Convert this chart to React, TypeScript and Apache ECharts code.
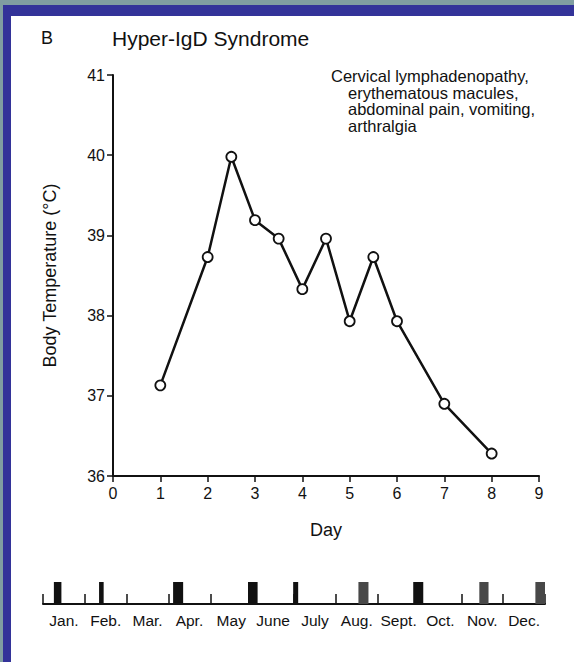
import React, { useEffect, useRef } from "react";
import * as echarts from "echarts";

// Fever curve (day, body temperature °C)
const days = [1, 2, 2.5, 3, 3.5, 4, 4.5, 5, 5.5, 6, 7, 8];
const temps = [37.13, 38.73, 39.98, 39.19, 38.96, 38.33, 38.96, 37.93, 38.73, 37.93, 36.9, 36.28];

// Year strip: fever episodes (start / end, in months from Jan 1)
const months = ["Jan.", "Feb.", "Mar.", "Apr.", "May", "June", "July", "Aug.", "Sept.", "Oct.", "Nov.", "Dec."];
const episodeStart = [0.26, 1.34, 3.11, 4.9, 5.98, 7.54, 8.85, 10.43, 11.77];
const episodeEnd = [0.44, 1.45, 3.35, 5.13, 6.1, 7.78, 9.09, 10.65, 12.0];
const episodeShaded = [false, false, false, false, false, true, false, true, true];

const symptoms = [
  "Cervical lymphadenopathy,",
  "erythematous macules,",
  "abdominal pain, vomiting,",
  "arthralgia",
];

const FONT = "'Liberation Sans', Arial, Helvetica, sans-serif";
const INK = "#111111";

export default function App() {
  const ref = useRef<HTMLDivElement>(null);

  useEffect(() => {
    const chart = echarts.init(ref.current!, null, { renderer: "svg" });
    const symptomX = [331, 348, 348, 348];
    const symptomY = [76, 92.5, 109, 125.5];
    chart.setOption({
      animation: false,
      backgroundColor: "transparent",
      textStyle: { fontFamily: FONT, color: INK },
      graphic: [
        {
          type: "text",
          x: 41,
          y: 38,
          style: { text: "B", font: `18px ${FONT}`, fill: INK, verticalAlign: "middle", align: "left" },
        },
        {
          type: "text",
          x: 112,
          y: 38,
          style: { text: "Hyper-IgD Syndrome", font: `21px ${FONT}`, fill: INK, verticalAlign: "middle", align: "left" },
        },
        ...symptoms.map((s, i) => ({
          type: "text",
          x: symptomX[i],
          y: symptomY[i],
          style: { text: s, font: `16.5px ${FONT}`, fill: INK, verticalAlign: "middle", align: "left" },
        })),
      ],
      grid: [
        { left: 113, top: 75, width: 426, height: 401 },
        { left: 43, top: 582, width: 502, height: 22 },
      ],
      xAxis: [
        {
          gridIndex: 0,
          type: "value",
          min: 0,
          max: 9,
          interval: 1,
          axisLine: { lineStyle: { color: INK, width: 2 } },
          axisTick: { length: 6, lineStyle: { color: INK, width: 1.5 } },
          axisLabel: { fontSize: 16, color: INK, margin: 9, fontFamily: FONT },
          splitLine: { show: false },
          name: "Day",
          nameLocation: "middle",
          nameGap: 45,
          nameTextStyle: { fontSize: 18, color: INK, fontFamily: FONT },
        },
        {
          gridIndex: 1,
          type: "value",
          min: 0,
          max: 12,
          interval: 1,
          position: "bottom",
          axisLine: { lineStyle: { color: INK, width: 2 } },
          axisTick: { inside: true, length: 10, lineStyle: { color: INK, width: 1.5 } },
          axisLabel: { show: false },
          splitLine: { show: false },
        },
        {
          gridIndex: 1,
          type: "category",
          data: months,
          position: "bottom",
          offset: 0,
          boundaryGap: true,
          axisLine: { show: false },
          axisTick: { show: false },
          axisLabel: { interval: 0, fontSize: 15.5, color: INK, margin: 8, fontFamily: FONT },
          splitLine: { show: false },
        },
      ],
      yAxis: [
        {
          gridIndex: 0,
          type: "value",
          min: 36,
          max: 41,
          interval: 1,
          axisLine: { show: true, lineStyle: { color: INK, width: 2 } },
          axisTick: { show: true, length: 6, lineStyle: { color: INK, width: 1.5 } },
          axisLabel: { fontSize: 16, color: INK, margin: 8, fontFamily: FONT },
          splitLine: { show: false },
          name: "Body Temperature (°C)",
          nameLocation: "middle",
          nameGap: 54,
          nameTextStyle: { fontSize: 18, color: INK, fontFamily: FONT },
        },
        { gridIndex: 1, type: "value", min: 0, max: 1, show: false },
      ],
      series: [
        {
          type: "line",
          xAxisIndex: 0,
          yAxisIndex: 0,
          data: days.map((d, i) => [d, temps[i]]),
          symbol: "circle",
          symbolSize: 10,
          showAllSymbol: true,
          lineStyle: { color: INK, width: 2.5 },
          itemStyle: { color: "#ffffff", borderColor: INK, borderWidth: 1.8 },
          z: 3,
        },
        {
          type: "custom",
          xAxisIndex: 1,
          yAxisIndex: 1,
          data: episodeStart.map((s, i) => [s, episodeEnd[i], episodeShaded[i] ? 1 : 0]),
          encode: { x: [0, 1] },
          renderItem: (params: any, api: any) => {
            const p0 = api.coord([api.value(0), 0]);
            const p1 = api.coord([api.value(1), 1]);
            return {
              type: "rect",
              shape: { x: p0[0], y: p1[1], width: p1[0] - p0[0], height: p0[1] - p1[1] },
              style: { fill: api.value(2) ? "#484848" : INK },
            };
          },
        },
      ],
    });
    return () => chart.dispose();
  }, []);

  return (
    <div style={{ position: "absolute", left: 0, top: 0, width: 574, height: 662, background: "#809ea1" }}>
      <div style={{ position: "absolute", left: 3, top: 5, right: 0, bottom: 0, background: "#333399" }} />
      <div style={{ position: "absolute", left: 11, top: 16, right: 0, bottom: 0, background: "#ffffff" }} />
      <div ref={ref} style={{ position: "absolute", left: 0, top: 0, width: 574, height: 662 }} />
    </div>
  );
}
